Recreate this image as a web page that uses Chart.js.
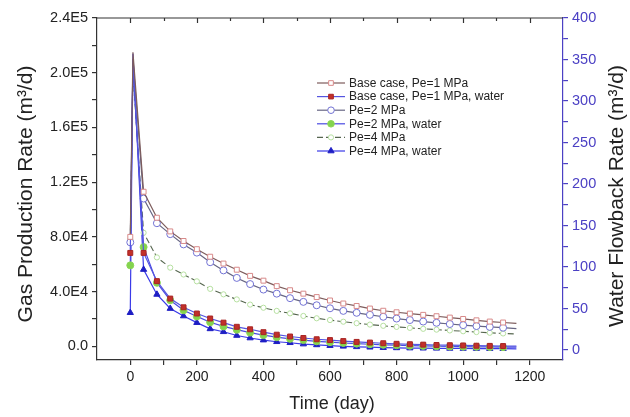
<!DOCTYPE html>
<html><head><meta charset="utf-8">
<style>html,body{margin:0;padding:0;background:#fff;}canvas{display:block;}</style>
<script src="https://cdn.jsdelivr.net/npm/chart.js@4/dist/chart.umd.min.js"></script>
</head><body>
<canvas id="c" width="630" height="417"></canvas>
<script>
const days = [0, 8, 40, 80, 120, 160, 200, 240, 280, 320, 360, 400, 440, 480, 520, 560, 600, 640, 680, 720, 760, 800, 840, 880, 920, 960, 1000, 1040, 1080, 1120, 1160];
const gasBase = [80000, 215000, 113000, 94000, 84000, 77000, 71000, 65500, 60500, 56000, 51500, 48000, 44000, 41000, 38500, 36000, 33500, 31300, 29500, 27600, 26000, 24900, 23900, 23000, 22000, 21000, 20000, 19000, 18100, 17400, 16800];
const waterBase = [117, 350, 117, 83, 62, 51.5, 44, 38, 33, 28, 25, 21.5, 18.5, 16.3, 14.5, 13, 12, 10.8, 9.8, 9, 8.2, 7.5, 7, 6.5, 6.1, 5.8, 5.5, 5.2, 5.0, 4.8, 4.7];
const gasPe2 = [76000, 210000, 108000, 90000, 82000, 74500, 68500, 61500, 55500, 50000, 45500, 41500, 38500, 35200, 32500, 30000, 27800, 25900, 24500, 23000, 21600, 20300, 19200, 18100, 17200, 16300, 15500, 14800, 14200, 13600, 13000];
const waterPe2 = [102, 345, 124, 81, 60, 48, 40.5, 33.5, 28.5, 24.5, 21, 18, 15.5, 13.5, 12, 10.5, 9.5, 8.5, 7.7, 7, 6.3, 5.8, 5.3, 5, 4.6, 4.3, 4.1, 3.9, 3.7, 3.5, 3.4];
const gasPe4 = [78000, 200000, 83000, 65000, 57500, 52500, 47500, 42000, 38000, 34300, 30500, 28200, 25900, 24100, 22200, 20500, 19200, 18000, 16900, 15900, 15000, 14200, 13500, 12800, 12200, 11600, 11000, 10400, 9900, 9400, 9000];
const waterPe4 = [45, 357, 97, 67, 50, 41, 33, 25.5, 22, 17.5, 14.5, 12, 10, 8.8, 7.2, 6.2, 5.3, 4.5, 3.9, 3.4, 2.9, 2.6, 2.4, 2.2, 2.1, 2.0, 1.9, 1.8, 1.7, 1.6, 1.5];

const seriesLabels = ['Base case, Pe=1 MPa', 'Base case, Pe=1 MPa, water', 'Pe=2 MPa', 'Pe=2 MPa, water', 'Pe=4 MPa', 'Pe=4 MPa, water'];
const xTickValues = [0, 100, 200, 300, 400, 500, 600, 700, 800, 900, 1000, 1100, 1200];
const xLabelValues = [0, 200, 400, 600, 800, 1000, 1200];
const gasTickValues = [0, 20000, 40000, 60000, 80000, 100000, 120000, 140000, 160000, 180000, 200000, 220000, 240000];
const gasTickLabels = {0: '0.0', 40000: '4.0E4', 80000: '8.0E4', 120000: '1.2E5', 160000: '1.6E5', 200000: '2.0E5', 240000: '2.4E5'};
const waterTickValues = [0, 25, 50, 75, 100, 125, 150, 175, 200, 225, 250, 275, 300, 325, 350, 375, 400];
const waterLabelValues = [0, 50, 100, 150, 200, 250, 300, 350, 400];

const FONT = "'Liberation Sans', Arial, sans-serif";
const BLUE_AX = '#4b40c4';
const TXT = '#222';

function pts(vals) { return days.map((d, i) => ({x: d, y: vals[i]})); }
function rad(r) { return ctx => (ctx.dataIndex === 1 || ctx.dataIndex === days.length - 1) ? 0 : r; }

const datasets = [
  {label: seriesLabels[0], yAxisID: 'y', data: pts(gasBase), borderColor: '#7d5c5c', borderWidth: 1.2,
   pointStyle: 'rect', pointRadius: rad(3.5), pointBackgroundColor: '#ffffff', pointBorderColor: '#d88a8a', pointBorderWidth: 1},
  {label: seriesLabels[1], yAxisID: 'y1', data: pts(waterBase), borderColor: '#5555e0', borderWidth: 1.2,
   pointStyle: 'rect', pointRadius: rad(3.5), pointBackgroundColor: '#c2302a', pointBorderColor: '#a82424', pointBorderWidth: 1},
  {label: seriesLabels[2], yAxisID: 'y', data: pts(gasPe2), borderColor: '#676684', borderWidth: 1.2,
   pointStyle: 'circle', pointRadius: rad(3.5), pointBackgroundColor: '#ffffff', pointBorderColor: '#7272d4', pointBorderWidth: 1},
  {label: seriesLabels[3], yAxisID: 'y1', data: pts(waterPe2), borderColor: '#4a4ae2', borderWidth: 1.2,
   pointStyle: 'circle', pointRadius: rad(3.5), pointBackgroundColor: '#84d44e', pointBorderColor: '#8cd656', pointBorderWidth: 1},
  {label: seriesLabels[4], yAxisID: 'y', data: pts(gasPe4), borderColor: '#56664f', borderWidth: 1.1, borderDash: [6, 3],
   pointStyle: 'circle', pointRadius: rad(2.6), pointBackgroundColor: '#ffffff', pointBorderColor: '#b6e0a0', pointBorderWidth: 1},
  {label: seriesLabels[5], yAxisID: 'y1', data: pts(waterPe4), borderColor: '#3a3ae8', borderWidth: 1.2,
   pointStyle: 'triangle', pointRadius: rad(3.6), pointBackgroundColor: '#1e1ec4', pointBorderColor: '#1e1ec4', pointBorderWidth: 1}
];

const frame = {
  id: 'frame',
  afterDraw(chart) {
    const c = chart.ctx, a = chart.chartArea, xs = chart.scales.x;
    c.save();
    c.strokeStyle = '#333'; c.lineWidth = 1.2;
    c.beginPath(); c.moveTo(a.left, a.top); c.lineTo(a.right, a.top); c.stroke();
    xTickValues.forEach(v => {
      const px = Math.round(xs.getPixelForValue(v)) + 0.5;
      const len = xLabelValues.includes(v) ? 5 : 3;
      c.beginPath(); c.moveTo(px, a.top); c.lineTo(px, a.top + len); c.stroke();
    });
    c.fillStyle = TXT;
    c.textAlign = 'center'; c.textBaseline = 'middle';
    c.font = '18px ' + FONT;
    c.fillText('Time (day)', (a.left + a.right) / 2 + 2, 404);
    c.font = '21px ' + FONT;
    c.save(); c.translate(26, 194); c.rotate(-Math.PI / 2);
    c.fillText('Gas Production Rate (m\u00B3/d)', 0, 0); c.restore();
    c.save(); c.translate(617, 196); c.rotate(-Math.PI / 2);
    c.fillText('Water Flowback Rate (m\u00B3/d)', 0, 0); c.restore();
    c.font = '12px ' + FONT; c.textAlign = 'left';
    chart.data.datasets.forEach((ds, i) => {
      const y = 83 + i * 13.6;
      c.save();
      c.strokeStyle = ds.borderColor; c.lineWidth = ds.borderWidth;
      c.setLineDash(ds.borderDash || []);
      c.beginPath(); c.moveTo(317, y); c.lineTo(345, y); c.stroke();
      c.setLineDash([]);
      c.fillStyle = ds.pointBackgroundColor; c.strokeStyle = ds.pointBorderColor; c.lineWidth = 1;
      Chart.helpers.drawPoint(c, {pointStyle: ds.pointStyle, radius: ds.pointStyle === 'triangle' ? 3.6 : (i === 4 ? 2.6 : 3.3), borderWidth: 1, rotation: 0}, 331, y);
      c.restore();
      c.fillStyle = TXT;
      c.fillText(ds.label, 349, y + 0.5);
    });
    c.restore();
  }
};

new Chart(document.getElementById('c'), {
  type: 'line',
  data: {datasets},
  options: {
    responsive: false, animation: false, devicePixelRatio: 1,
    layout: {padding: {top: 18, left: 0, right: 0, bottom: 0}},
    plugins: {legend: {display: false}, tooltip: {enabled: false}},
    elements: {line: {tension: 0}},
    scales: {
      x: {
        type: 'linear', position: 'bottom', min: -100, max: 1300,
        afterBuildTicks: s => { s.ticks = xTickValues.map(v => ({value: v})); },
        afterFit: s => { s.height = 57; },
        ticks: {autoSkip: false, maxRotation: 0, padding: 4, color: TXT, font: {size: 14, family: FONT},
          callback: v => xLabelValues.includes(v) ? String(v) : ''},
        grid: {drawOnChartArea: false, drawTicks: true, tickLength: 5, color: '#333', lineWidth: 1.2},
        border: {display: true, color: '#333', width: 1.2},
        title: {display: false}
      },
      y: {
        type: 'linear', position: 'left', min: -10000, max: 240000,
        afterBuildTicks: s => { s.ticks = gasTickValues.map(v => ({value: v})); },
        afterFit: s => { s.width = 97; },
        ticks: {autoSkip: false, padding: 4, color: TXT, font: {size: 14.5, family: FONT},
          callback: v => gasTickLabels[v] !== undefined ? gasTickLabels[v] : ''},
        grid: {drawOnChartArea: false, drawTicks: true, tickLength: 5, color: '#333', lineWidth: 1.2},
        border: {display: true, color: '#333', width: 1.2}
      },
      y1: {
        type: 'linear', position: 'right', min: -12, max: 400,
        afterBuildTicks: s => { s.ticks = waterTickValues.map(v => ({value: v})); },
        afterFit: s => { s.width = 67; },
        ticks: {autoSkip: false, padding: 4, color: BLUE_AX, font: {size: 14.5, family: FONT},
          callback: v => waterLabelValues.includes(v) ? String(v) : ''},
        grid: {drawOnChartArea: false, drawTicks: true, tickLength: 5, color: BLUE_AX, lineWidth: 1.2},
        border: {display: true, color: BLUE_AX, width: 1.2}
      }
    }
  },
  plugins: [frame]
});
</script>
</body></html>
